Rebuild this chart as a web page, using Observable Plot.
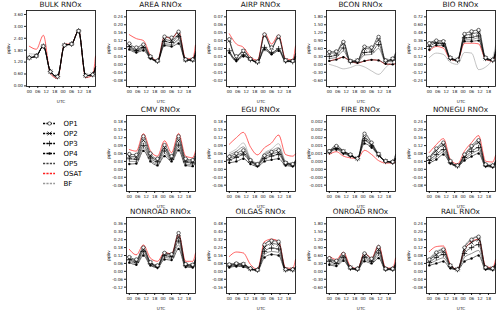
<!DOCTYPE html>
<html><head><meta charset="utf-8">
<script src="https://cdn.jsdelivr.net/npm/d3@7"></script>
<script src="https://cdn.jsdelivr.net/npm/@observablehq/plot@0.6"></script>
<style>
body{margin:0;background:#fff;}
#fig{position:relative;width:500px;height:314px;font-family:"DejaVu Sans",sans-serif;overflow:hidden;background:#fff}
.panel{position:absolute;width:100px;height:104px}
.legend{position:absolute;width:60px;height:74px}
.title{position:absolute;width:69px;text-align:center;font-size:7.3px;line-height:8px;color:#111;font-weight:normal;white-space:nowrap}
</style></head><body><div id="fig"></div>
<script>
// ---- data ----
const hours = [0,5,10,15,20,25,30,35,40,45,47];
const series = ["OP1","OP2","OP3","OP4","OP5","OSAT","BF"];
const xTicks = [0,6,12,18,24,30,36,42];
const xTickLabels = ["00","06","12","18","00","06","12","18"];

const BULK = {
  OP1:[1.42,1.51,2.0,0.72,0.47,2.05,2.11,2.77,0.52,0.57,0.95],
  OP2:[1.42,1.51,2.0,0.72,0.47,2.05,2.11,2.77,0.52,0.57,0.95],
  OP3:[1.42,1.51,2.0,0.72,0.47,2.05,2.11,2.77,0.52,0.57,0.95],
  OP4:[1.42,1.51,2.0,0.72,0.47,2.05,2.11,2.77,0.52,0.57,0.95],
  OP5:[1.42,1.51,2.0,0.72,0.47,2.05,2.11,2.77,0.52,0.57,0.95],
  OSAT:[2.0,1.85,2.55,0.62,0.38,2.1,2.12,2.8,0.42,0.55,1.5],
  BF:[1.62,1.6,2.0,0.6,0.42,2.05,2.12,2.75,0.45,0.5,0.85]
};
const AREA = {
  OP1:[0.105,0.085,0.10,0.04,0.018,0.14,0.135,0.165,0.025,0.025,0.065],
  OP2:[0.095,0.075,0.09,0.037,0.017,0.125,0.12,0.15,0.023,0.023,0.058],
  OP3:[0.09,0.07,0.085,0.035,0.016,0.115,0.11,0.14,0.022,0.022,0.055],
  OP4:[0.075,0.06,0.07,0.03,0.015,0.095,0.09,0.105,0.02,0.02,0.045],
  OP5:[0.085,0.065,0.08,0.033,0.016,0.105,0.1,0.125,0.021,0.021,0.05],
  OSAT:[0.15,0.13,0.12,0.045,0.018,0.14,0.13,0.165,0.03,0.028,0.10],
  BF:[0.08,0.065,0.075,0.032,0.016,0.1,0.095,0.12,0.02,0.02,0.05]
};
const AIRP = {
  OP1:[0.037,0.012,0.02,0.008,0.004,0.044,0.025,0.041,0.006,0.005,0.016],
  OP2:[0.035,0.011,0.019,0.008,0.004,0.042,0.024,0.039,0.006,0.005,0.015],
  OP3:[0.02,0.007,0.014,0.007,0.003,0.025,0.017,0.023,0.005,0.004,0.011],
  OP4:[0.017,0.005,0.012,0.007,0.003,0.022,0.015,0.02,0.004,0.004,0.01],
  OP5:[0.019,0.006,0.013,0.007,0.003,0.024,0.016,0.022,0.005,0.004,0.011],
  OSAT:[0.045,0.03,0.025,0.011,0.006,0.046,0.03,0.043,0.008,0.007,0.027],
  BF:[0.016,0.008,0.014,0.008,0.004,0.02,0.018,0.021,0.005,0.005,0.012]
};
const BCON = {
  OP1:[0.47,0.49,0.85,0.13,0.15,0.67,0.64,1.04,0.15,0.22,0.43],
  OP2:[0.42,0.45,0.78,0.12,0.14,0.6,0.58,0.92,0.14,0.2,0.38],
  OP3:[0.3,0.35,0.62,0.1,0.12,0.45,0.47,0.75,0.12,0.17,0.3],
  OP4:[0.13,0.18,0.27,0.1,0.06,0.13,0.17,0.15,0.02,0.0,0.03],
  OP5:[0.22,0.27,0.5,0.1,0.1,0.35,0.38,0.6,0.1,0.12,0.22],
  OSAT:[0.12,0.2,0.27,0.12,0.05,0.12,0.17,0.15,0.01,0.0,0.02],
  BF:[0.0,-0.08,-0.17,-0.12,-0.03,-0.1,-0.25,-0.38,-0.12,0.15,0.32]
};
const BIO = {
  OP1:[0.32,0.36,0.35,0.1,0.07,0.46,0.5,0.52,0.1,0.07,0.2],
  OP2:[0.3,0.34,0.33,0.09,0.07,0.43,0.46,0.48,0.09,0.07,0.19],
  OP3:[0.27,0.32,0.31,0.09,0.06,0.4,0.41,0.43,0.09,0.06,0.17],
  OP4:[0.22,0.29,0.28,0.08,0.06,0.35,0.35,0.36,0.08,0.06,0.15],
  OP5:[0.34,0.33,0.3,0.09,0.06,0.38,0.38,0.4,0.08,0.06,0.22],
  OSAT:[0.2,0.27,0.245,0.075,0.06,0.32,0.32,0.31,0.075,0.05,0.15],
  BF:[0.1,0.17,0.15,0.03,0.0,0.18,0.17,-0.08,-0.04,0.1,0.28]
};
const CMV = {
  OP1:[0.058,0.055,0.125,0.06,0.04,0.092,0.05,0.125,0.04,0.035,0.06],
  OP2:[0.05,0.048,0.11,0.052,0.035,0.082,0.045,0.11,0.035,0.03,0.052],
  OP3:[0.04,0.038,0.09,0.043,0.028,0.07,0.038,0.092,0.028,0.024,0.042],
  OP4:[0.02,0.022,0.07,0.03,0.015,0.05,0.03,0.072,0.015,0.012,0.022],
  OP5:[0.03,0.03,0.08,0.036,0.02,0.06,0.034,0.082,0.02,0.018,0.03],
  OSAT:[0.075,0.069,0.135,0.07,0.05,0.108,0.063,0.136,0.05,0.044,0.07],
  BF:[0.045,0.043,0.1,0.05,0.032,0.078,0.042,0.1,0.03,0.027,0.048]
};
const EGU = {
  OP1:[0.048,0.06,0.072,0.035,0.02,0.052,0.066,0.072,0.025,0.02,0.032],
  OP2:[0.042,0.052,0.062,0.032,0.018,0.046,0.058,0.064,0.023,0.018,0.028],
  OP3:[0.035,0.045,0.055,0.028,0.016,0.04,0.05,0.056,0.02,0.016,0.025],
  OP4:[0.025,0.03,0.04,0.02,0.012,0.03,0.036,0.04,0.015,0.012,0.02],
  OP5:[0.055,0.068,0.085,0.038,0.022,0.058,0.07,0.082,0.028,0.02,0.034],
  OSAT:[0.095,0.12,0.14,0.085,0.055,0.082,0.1,0.13,0.056,0.05,0.058],
  BF:[0.062,0.077,0.1,0.042,0.025,0.062,0.077,0.097,0.03,0.022,0.036]
};
const FIRE = {
  OP1:[0.00092,0.00118,0.00092,0.00075,0.00055,0.0018,0.00135,0.00078,0.00042,0.00038,0.00075],
  OP2:[0.0009,0.0011,0.0009,0.00072,0.00055,0.0016,0.00125,0.00075,0.00041,0.00037,0.0006],
  OP3:[0.00088,0.00105,0.00085,0.0007,0.00054,0.00145,0.00118,0.00072,0.0004,0.00036,0.00055],
  OP4:[0.00085,0.001,0.0008,0.00068,0.00054,0.0013,0.0011,0.0007,0.0004,0.00035,0.0005],
  OP5:[0.00088,0.00108,0.00087,0.0007,0.00055,0.0015,0.0012,0.00073,0.00041,0.00036,0.00055],
  OSAT:[0.00075,0.00089,0.00067,0.00058,0.00055,0.00096,0.00075,0.00044,0.00032,0.00032,0.00036],
  BF:[0.0009,0.0012,0.00095,0.00075,0.00056,0.0017,0.0013,0.00076,0.00042,0.00037,0.0007]
};
const NONEGU = {
  OP1:[0.058,0.105,0.135,0.042,0.02,0.075,0.118,0.147,0.025,0.02,0.042],
  OP2:[0.052,0.095,0.122,0.038,0.019,0.068,0.108,0.135,0.023,0.018,0.038],
  OP3:[0.045,0.075,0.1,0.035,0.017,0.06,0.09,0.11,0.02,0.016,0.034],
  OP4:[0.032,0.05,0.075,0.03,0.015,0.045,0.065,0.08,0.015,0.012,0.025],
  OP5:[0.04,0.062,0.088,0.032,0.016,0.052,0.078,0.095,0.018,0.014,0.03],
  OSAT:[0.085,0.125,0.155,0.05,0.027,0.092,0.135,0.17,0.041,0.037,0.07],
  BF:[0.06,0.1,0.128,0.04,0.02,0.072,0.11,0.14,0.024,0.02,0.045]
};
const NONROAD = {
  OP1:[0.108,0.09,0.18,0.07,0.045,0.14,0.13,0.29,0.055,0.05,0.1],
  OP2:[0.098,0.08,0.165,0.065,0.04,0.13,0.12,0.26,0.05,0.045,0.09],
  OP3:[0.088,0.07,0.15,0.058,0.036,0.118,0.11,0.23,0.045,0.04,0.08],
  OP4:[0.066,0.05,0.12,0.045,0.028,0.09,0.085,0.17,0.032,0.03,0.056],
  OP5:[0.078,0.06,0.135,0.05,0.032,0.105,0.098,0.2,0.038,0.035,0.068],
  OSAT:[0.167,0.125,0.2,0.1,0.076,0.142,0.133,0.28,0.076,0.076,0.138],
  BF:[0.1,0.085,0.17,0.068,0.042,0.135,0.125,0.27,0.05,0.048,0.095]
};
const OILGAS = {
  OP1:[0.07,0.08,0.075,0.03,0.015,0.27,0.31,0.3,0.02,0.02,0.045],
  OP2:[0.062,0.072,0.068,0.027,0.014,0.24,0.28,0.27,0.018,0.018,0.04],
  OP3:[0.055,0.065,0.06,0.025,0.013,0.2,0.235,0.225,0.016,0.016,0.035],
  OP4:[0.04,0.05,0.045,0.02,0.01,0.14,0.17,0.16,0.012,0.012,0.025],
  OP5:[0.048,0.058,0.052,0.022,0.012,0.17,0.2,0.19,0.014,0.014,0.03],
  OSAT:[0.15,0.195,0.185,0.07,0.02,0.3,0.325,0.3,0.035,0.03,0.12],
  BF:[0.065,0.075,0.07,0.028,0.014,0.26,0.32,0.31,0.02,0.02,0.05]
};
const ONROAD = {
  OP1:[0.5,0.4,0.66,0.15,0.1,0.68,0.48,0.92,0.1,0.1,0.32],
  OP2:[0.45,0.36,0.6,0.14,0.09,0.6,0.43,0.82,0.09,0.09,0.28],
  OP3:[0.38,0.3,0.52,0.12,0.08,0.52,0.38,0.7,0.08,0.08,0.24],
  OP4:[0.25,0.2,0.4,0.1,0.06,0.38,0.3,0.5,0.06,0.06,0.16],
  OP5:[0.3,0.25,0.46,0.11,0.07,0.45,0.34,0.6,0.07,0.07,0.2],
  OSAT:[0.57,0.45,0.72,0.2,0.1,0.69,0.5,0.98,0.14,0.12,0.5],
  BF:[0.48,0.4,0.68,0.16,0.1,0.7,0.5,1.0,0.11,0.1,0.35]
};
const RAIL = {
  OP1:[0.06,0.095,0.11,0.03,0.01,0.12,0.16,0.175,0.02,0.015,0.04],
  OP2:[0.055,0.085,0.1,0.028,0.01,0.11,0.145,0.16,0.018,0.014,0.037],
  OP3:[0.045,0.07,0.085,0.024,0.009,0.09,0.12,0.135,0.016,0.012,0.032],
  OP4:[0.03,0.04,0.05,0.015,0.008,0.05,0.065,0.08,0.01,0.008,0.02],
  OP5:[0.038,0.055,0.068,0.02,0.008,0.07,0.09,0.105,0.013,0.01,0.026],
  OSAT:[0.1,0.125,0.128,0.034,0.01,0.108,0.15,0.162,0.026,0.018,0.059],
  BF:[0.065,0.1,0.115,0.032,0.011,0.125,0.165,0.178,0.022,0.016,0.045]
};

// y tick labels (bottom to top)
const BULK_ticks = ["0.00","0.60","1.20","1.80","2.40","3.00","3.60"];
const AREA_ticks = ["-0.08","-0.04","0.00","0.04","0.08","0.12","0.16","0.20","0.24"];
const AIRP_ticks = ["-0.02","-0.01","0.00","0.01","0.02","0.04","0.05","0.06","0.07"];
const BCON_ticks = ["-0.60","-0.30","0.00","0.30","0.60","0.90","1.20","1.50","1.80"];
const BIO_ticks = ["-0.24","-0.12","0.00","0.12","0.24","0.36","0.48","0.60","0.72"];
const CMV_ticks = ["-0.06","-0.03","0.00","0.03","0.06","0.09","0.12","0.15","0.18"];
const FIRE_ticks = ["-0.001","-0.000","0.000","0.000","0.001","0.001","0.002","0.002","0.002"];
const NONROAD_ticks = ["-0.12","-0.06","0.00","0.06","0.12","0.18","0.24","0.30","0.36"];
const OILGAS_ticks = ["-0.16","-0.08","0.00","0.08","0.16","0.24","0.32","0.40","0.48"];

const panels = [
  {title:"BULK RNOx", data:BULK, step:0.6, kmin:0, labels:BULK_ticks, col:0, row:0},
  {title:"AREA RNOx", data:AREA, step:0.04, kmin:-2, labels:AREA_ticks, col:1, row:0},
  {title:"AIRP RNOx", data:AIRP, step:0.07/6, kmin:-2, labels:AIRP_ticks, col:2, row:0},
  {title:"BCON RNOx", data:BCON, step:0.3, kmin:-2, labels:BCON_ticks, col:3, row:0},
  {title:"BIO RNOx", data:BIO, step:0.12, kmin:-2, labels:BIO_ticks, col:4, row:0},
  {title:"CMV RNOx", data:CMV, step:0.03, kmin:-2, labels:CMV_ticks, col:1, row:1},
  {title:"EGU RNOx", data:EGU, step:0.03, kmin:-2, labels:CMV_ticks, col:2, row:1},
  {title:"FIRE RNOx", data:FIRE, step:0.0004, kmin:-2, labels:FIRE_ticks, col:3, row:1},
  {title:"NONEGU RNOx", data:NONEGU, step:0.04, kmin:-2, labels:AREA_ticks, col:4, row:1},
  {title:"NONROAD RNOx", data:NONROAD, step:0.06, kmin:-2, labels:NONROAD_ticks, col:1, row:2},
  {title:"OILGAS RNOx", data:OILGAS, step:0.08, kmin:-2, labels:OILGAS_ticks, col:2, row:2},
  {title:"ONROAD RNOx", data:ONROAD, step:0.3, kmin:-2, labels:BCON_ticks, col:3, row:2},
  {title:"RAIL RNOx", data:RAIL, step:0.04, kmin:-2, labels:AREA_ticks, col:4, row:2}
];

// ---- styles ----
const styles = {
  OP1:{stroke:"#000", dash:"2.4,0.9", width:0.6, marker:"open"},
  OP2:{stroke:"#000", dash:"2.4,0.9", width:0.6, marker:"times"},
  OP3:{stroke:"#000", dash:"2.4,0.9", width:0.6, marker:"plus"},
  OP4:{stroke:"#000", dash:"2.4,0.9", width:0.6, marker:"filled"},
  OP5:{stroke:"#444", dash:"1.4,0.8", width:0.6},
  OSAT:{stroke:"#ff2020", dash:"1.6,0.7", width:0.7},
  BF:{stroke:"#9a9a9a", dash:"1.6,0.7", width:0.6}
};
const drawOrder = ["BF","OSAT","OP5","OP4","OP3","OP2","OP1"];
const rowTop = [0,105,207];
const FONT = "DejaVu Sans, sans-serif";

function markerMark(kind, data, opts){
  if (kind==="open") return Plot.dot(data, {...opts, r:1.7, stroke:"#000", fill:"#fff", strokeWidth:0.6});
  if (kind==="times") return Plot.dot(data, {...opts, symbol:"times", r:1.9, stroke:"#000", fill:"none", strokeWidth:0.7});
  if (kind==="plus") return Plot.dot(data, {...opts, symbol:"plus", r:1.9, stroke:"#000", fill:"none", strokeWidth:0.7});
  return Plot.dot(data, {...opts, r:1.2, fill:"#000", stroke:"none"});
}

const fig = document.getElementById("fig");

for (const p of panels){
  const tickVals = p.labels.map((_,i)=>(i+p.kmin)*p.step);
  const top = tickVals[tickVals.length-1];
  const domain = p.kmin===0 ? [-0.03, top + 0.2] : [-2.8*p.step, 6.8*p.step];
  const marks = [];
  for (const s of drawOrder){
    const pts = hours.map((h,i)=>({h, v:p.data[s][i]}));
    const st = styles[s];
    marks.push(Plot.line(pts, {x:"h", y:"v", stroke:st.stroke, strokeWidth:st.width, strokeDasharray:st.dash, curve:"monotone-x"}));
  }
  for (const s of drawOrder){
    const st = styles[s];
    if (!st.marker) continue;
    const pts = hours.slice(0,-1).map((h,i)=>({h, v:p.data[s][i]}));
    marks.push(markerMark(st.marker, pts, {x:"h", y:"v"}));
  }
  marks.push(Plot.axisX({ticks:xTicks, tickFormat:d=>xTickLabels[xTicks.indexOf(d)], tickSize:2, tickPadding:1.5,
    label:"UTC", labelAnchor:"center", labelOffset:16, labelArrow:"none"}));
  marks.push(Plot.axisY({ticks:tickVals, tickFormat:d=>p.labels[tickVals.indexOf(d)], tickSize:2, tickPadding:1.5,
    label:"ppbv", labelAnchor:"center", labelOffset:19, labelArrow:"none"}));
  marks.push(Plot.frame({stroke:"#000", strokeWidth:0.8}));
  const svg = Plot.plot({
    width:100, height:104, marginLeft:26, marginRight:5, marginTop:10, marginBottom:18,
    style:{fontFamily:FONT, fontSize:"4.2px", color:"#222", background:"transparent", overflow:"visible"},
    x:{domain:[-2,47]},
    y:{domain},
    marks
  });
  const div = document.createElement("div");
  div.className = "panel";
  div.style.left = (p.col*100)+"px";
  div.style.top = rowTop[p.row]+"px";
  div.appendChild(svg);
  fig.appendChild(div);
  const t = document.createElement("div");
  t.className = "title";
  t.textContent = p.title;
  t.style.left = (p.col*100+26)+"px";
  t.style.top = (rowTop[p.row]+1)+"px";
  fig.appendChild(t);
}

// ---- legend ----
const legendRows = series.map(s => ({s, stroke: styles[s].stroke}));
const legMarks = [];
legMarks.push(Plot.ruleY(legendRows, {y:"s", x1:3, x2:15, stroke:"stroke", strokeWidth:1.4, strokeDasharray:"2.2,1.2"}));
for (const s of series){
  const st = styles[s];
  if (st.marker) legMarks.push(markerMark(st.marker, [s], {x:()=>9, y:d=>d}));
}
legMarks.push(Plot.text(series, {x:()=>23, y:d=>d, text:d=>d, textAnchor:"start", fontSize:7, fill:"#000"}));
const leg = Plot.plot({
  width:60, height:74, margin:0,
  style:{fontFamily:FONT, background:"transparent", overflow:"visible"},
  x:{domain:[0,60], range:[0,60], axis:null},
  y:{type:"point", domain:series, range:[6,68], padding:0, axis:null},
  color:{type:"identity"},
  marks:legMarks
});
const ld = document.createElement("div");
ld.className = "legend";
ld.style.left = "40px"; ld.style.top = "116px";
ld.appendChild(leg);
fig.appendChild(ld);
</script></body></html>
